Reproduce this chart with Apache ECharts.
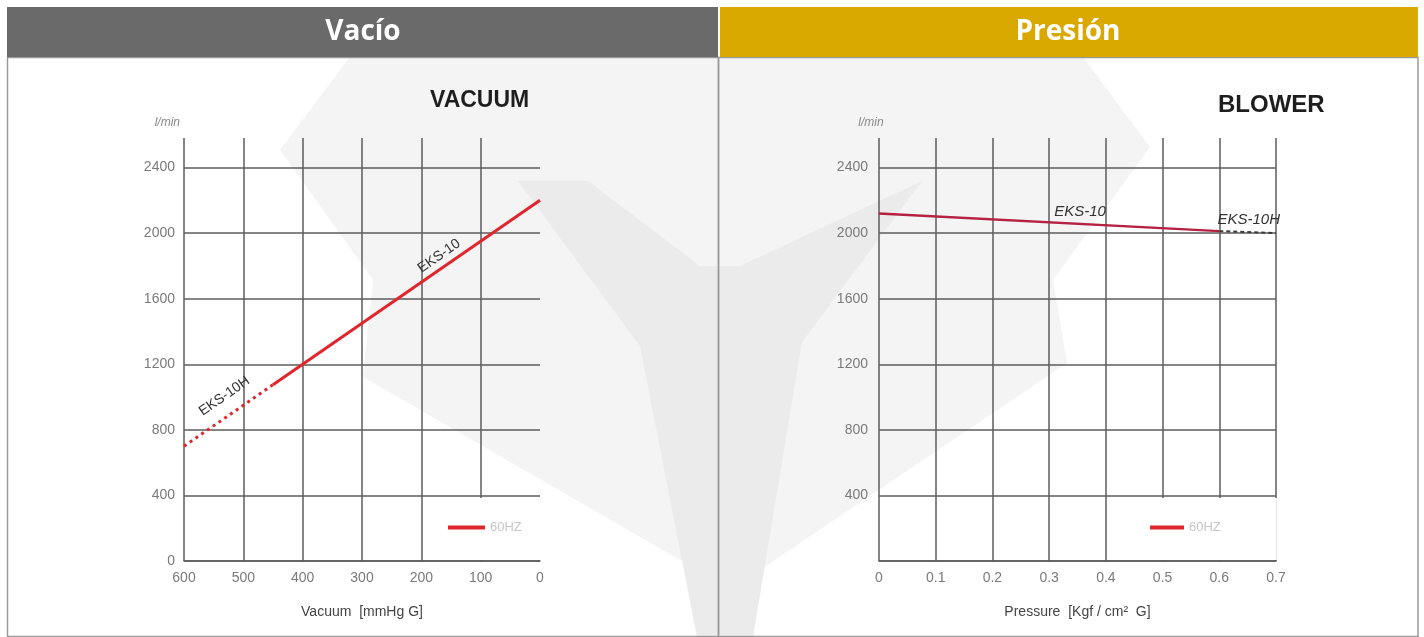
<!DOCTYPE html>
<html><head><meta charset="utf-8">
<script src="https://cdn.jsdelivr.net/npm/echarts@6/dist/echarts.min.js"></script>
<style>html,body{margin:0;padding:0;background:#fff}#c{width:1424px;height:637px}</style>
</head><body><div id="c"></div>
<script>
// ---- data ----
const vacuumTicks = [0, 100, 200, 300, 400, 500, 600];          // mmHg G (axis drawn reversed)
const pressureTicks = [0, 0.1, 0.2, 0.3, 0.4, 0.5, 0.6, 0.7];   // Kgf/cm² G
const flowTicks = [0, 400, 800, 1200, 1600, 2000, 2400];         // l/min

const vacuumEKS10_x = [450, 0];
const vacuumEKS10_y = [1075, 2200];
const vacuumEKS10H_x = [600, 450];
const vacuumEKS10H_y = [700, 1075];

const pressureEKS10_x = [0, 0.6];
const pressureEKS10_y = [2120, 2012];
const pressureEKS10H_x = [0.6, 0.7];
const pressureEKS10H_y = [2012, 2000];

const zip = (xs, ys) => xs.map((x, i) => [x, ys[i]]);

const FONT = 'Liberation Sans, Arial, sans-serif';
const GRIDC = '#5c5c5c';
const RED = '#e0262c';
const CRIMSON = '#b52140';

const chart = echarts.init(document.getElementById('c'), null, {renderer: 'canvas'});

function valueAxisX(idx, ticks, extra) {
  return Object.assign({
    type: 'value', gridIndex: idx,
    min: ticks[0], max: ticks[ticks.length - 1], interval: ticks[1] - ticks[0],
    axisLine: {show: true, onZero: false, lineStyle: {color: GRIDC, width: 1.5}},
    axisTick: {show: false},
    axisLabel: {color: '#7a7a7a', fontSize: 14, margin: 10, fontFamily: FONT},
    splitLine: {show: true, lineStyle: {color: GRIDC, width: 1.5}},
    nameLocation: 'middle', nameGap: 44,
    nameTextStyle: {color: '#444', fontSize: 14, fontFamily: FONT}
  }, extra);
}
function valueAxisY(idx, extra) {
  return Object.assign({
    type: 'value', gridIndex: idx, position: 'left',
    min: 0, max: 2580, interval: flowTicks[1] - flowTicks[0],
    axisLine: {show: false, onZero: false}, axisTick: {show: false},
    axisLabel: {color: '#7a7a7a', fontSize: 14, margin: 9, fontFamily: FONT,
      showMaxLabel: false,
      formatter: v => flowTicks.indexOf(v) >= 0 ? String(v) : ''},
    splitLine: {show: true, showMaxLine: false, lineStyle: {color: GRIDC, width: 1.5}},
    name: 'l/min', nameLocation: 'end', nameGap: 9,
    nameTextStyle: {color: '#8a8a8a', fontSize: 12, fontStyle: 'italic', fontFamily: FONT}
  }, extra);
}

const option = {
  backgroundColor: '#ffffff',
  animation: false,
  graphic: [
    // faint watermark logo
    {type: 'polygon', z: -20, silent: true,
     shape: {points: [[350,57],[1083,57],[1150,147],[1053,280],[1067,363],[760,570],[753,637],[697,637],[687,564],[363,377],[373,280],[280,150]]},
     style: {fill: '#f4f4f4'}},
    {type: 'polygon', z: -19, silent: true,
     shape: {points: [[518,181],[588,181],[700,266],[740,266],[922,181],[802,342],[753,637],[697,637],[640,346]]},
     style: {fill: '#ebebeb'}},
    // panels
    {type: 'rect', z: -5, silent: true, shape: {x: 7.5, y: 57.5, width: 711, height: 579}, style: {fill: null, stroke: '#9a9a9a', lineWidth: 1.5}},
    {type: 'rect', z: -5, silent: true, shape: {x: 718.5, y: 57.5, width: 699.5, height: 579}, style: {fill: null, stroke: '#9a9a9a', lineWidth: 1.5}},
    // header bars
    {type: 'rect', z: 5, silent: true, shape: {x: 7, y: 7, width: 711, height: 50}, style: {fill: '#6a6a6a'}},
    {type: 'rect', z: 5, silent: true, shape: {x: 720, y: 7, width: 698, height: 50}, style: {fill: '#d9a900'}},
    {type: 'text', z: 6, silent: true, x: 363, y: 32,
     style: {text: 'Vacío', fill: '#ffffff', font: 'bold 28px "Open Sans", sans-serif', align: 'center', verticalAlign: 'middle'}},
    {type: 'text', z: 6, silent: true, x: 1068, y: 32,
     style: {text: 'Presión', fill: '#ffffff', font: 'bold 28px "Open Sans", sans-serif', align: 'center', verticalAlign: 'middle'}}
  ],
  title: [
    {text: 'VACUUM', left: 430, top: 89, padding: 0,
     textStyle: {fontSize: 23, fontWeight: 'bold', color: '#1e1e1e', fontFamily: FONT}},
    {text: 'BLOWER', left: 1218, top: 93, padding: 0,
     textStyle: {fontSize: 24, fontWeight: 'bold', color: '#1e1e1e', fontFamily: FONT}}
  ],
  legend: [
    {data: [{name: '60HZ', itemStyle: {color: RED}}], left: 430, top: 498,
     icon: 'rect', itemWidth: 37, itemHeight: 4, padding: [23, 16, 26, 18],
     backgroundColor: '#ffffff', selectedMode: false,
     textStyle: {color: '#c6c6c6', fontSize: 13, fontFamily: FONT}},
    {data: [{name: '60HZ', itemStyle: {color: RED}}], left: 1128, top: 498,
     icon: 'rect', itemWidth: 34, itemHeight: 4, padding: [23, 56, 26, 22],
     backgroundColor: '#ffffff', selectedMode: false,
     textStyle: {color: '#c6c6c6', fontSize: 13, fontFamily: FONT}}
  ],
  grid: [
    {left: 184, right: 884, top: 138, bottom: 76},
    {left: 879, right: 148, top: 138, bottom: 76}
  ],
  xAxis: [
    valueAxisX(0, vacuumTicks, {inverse: true, name: 'Vacuum  [mmHg G]',
      splitLine: {show: true, showMinLine: false, lineStyle: {color: GRIDC, width: 1.5}}}),
    valueAxisX(1, pressureTicks, {name: 'Pressure  [Kgf / cm²  G]',
      axisLabel: {color: '#7a7a7a', fontSize: 14, margin: 10, fontFamily: FONT,
        formatter: v => String(Math.round(v * 10) / 10)}})
  ],
  yAxis: [
    valueAxisY(0, {nameTextStyle: {color: '#8a8a8a', fontSize: 12, fontStyle: 'italic', fontFamily: FONT, align: 'right', padding: [0, 4, 0, 0]}}),
    valueAxisY(1, {
      axisLabel: {color: '#7a7a7a', fontSize: 14, margin: 11, fontFamily: FONT,
        showMaxLabel: false, showMinLabel: false,
        formatter: v => (v > 0 && flowTicks.indexOf(v) >= 0) ? String(v) : ''},
      nameTextStyle: {color: '#8a8a8a', fontSize: 12, fontStyle: 'italic', fontFamily: FONT, align: 'center', padding: [0, 16, 0, 0]}})
  ],
  series: [
    {name: '60HZ', type: 'line', xAxisIndex: 0, yAxisIndex: 0, symbol: 'none', z: 3,
     data: zip(vacuumEKS10_x, vacuumEKS10_y),
     lineStyle: {color: RED, width: 3}, itemStyle: {color: RED},
     markPoint: {symbol: 'circle', symbolSize: 1, silent: true, itemStyle: {color: 'rgba(0,0,0,0)'},
       label: {show: true, position: 'inside', formatter: '{b}', rotate: 35, color: '#333', fontSize: 14, fontFamily: FONT},
       data: [{name: 'EKS-10', coord: [170, 1860]}]}},
    {name: 'EKS-10H vac', type: 'line', xAxisIndex: 0, yAxisIndex: 0, symbol: 'none', z: 3,
     data: zip(vacuumEKS10H_x, vacuumEKS10H_y),
     lineStyle: {color: RED, width: 3, type: [3, 4]}, itemStyle: {color: RED},
     markPoint: {symbol: 'circle', symbolSize: 1, silent: true, itemStyle: {color: 'rgba(0,0,0,0)'},
       label: {show: true, position: 'inside', formatter: '{b}', rotate: 35, color: '#333', fontSize: 14, fontFamily: FONT},
       data: [{name: 'EKS-10H', coord: [532, 1005]}]}},
    {name: '60HZ', type: 'line', xAxisIndex: 1, yAxisIndex: 1, symbol: 'none', z: 3,
     data: zip(pressureEKS10_x, pressureEKS10_y),
     lineStyle: {color: CRIMSON, width: 2.5}, itemStyle: {color: CRIMSON},
     markPoint: {symbol: 'circle', symbolSize: 1, silent: true, itemStyle: {color: 'rgba(0,0,0,0)'},
       label: {show: true, position: 'inside', formatter: '{b}', color: '#333', fontSize: 15, fontStyle: 'italic', fontFamily: FONT},
       data: [{name: 'EKS-10', coord: [0.3545, 2128]}]}},
    {name: 'EKS-10H pre', type: 'line', xAxisIndex: 1, yAxisIndex: 1, symbol: 'none', z: 3,
     data: zip(pressureEKS10H_x, pressureEKS10H_y),
     lineStyle: {color: '#3a3a3a', width: 2, type: [4, 3]}, itemStyle: {color: '#3a3a3a'},
     markPoint: {symbol: 'circle', symbolSize: 1, silent: true, itemStyle: {color: 'rgba(0,0,0,0)'},
       label: {show: true, position: 'inside', formatter: '{b}', color: '#333', fontSize: 15, fontStyle: 'italic', fontFamily: FONT},
       data: [{name: 'EKS-10H', coord: [0.652, 2079]}]}}
  ]
};
chart.setOption(option);
</script></body></html>
